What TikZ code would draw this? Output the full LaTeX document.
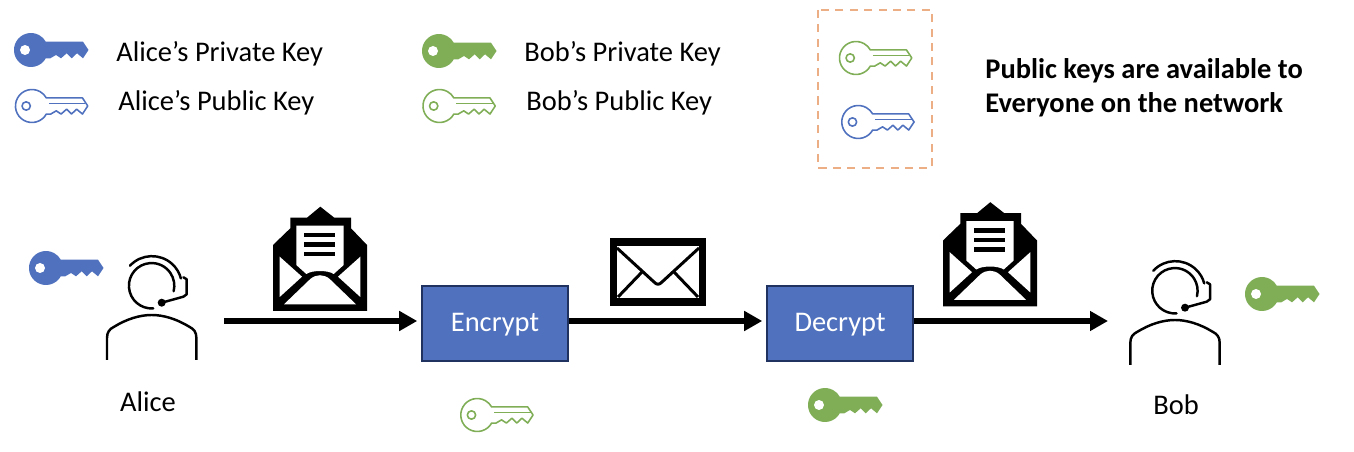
\documentclass[tikz,border=0pt]{standalone}
\usepackage{fontspec}
\setmainfont{Carlito}
\usetikzlibrary{positioning,arrows.meta}
\definecolor{keyblue}{HTML}{4F71BE}
\definecolor{keygreen}{HTML}{7FAE57}
\definecolor{boxedge}{HTML}{1F3260}
\definecolor{dashorange}{HTML}{EBAE85}
\newcommand{\keyshape}{(14.8,8.3)--(52,8.3)--(57.5,0)--(52,-8.3)--(46,-3.3)--(40.7,-8.3)--(35.7,-3.3)--(30,-8.3)--(25,-5)--(19.3,-8.3)--(14.8,-8.3)
  arc[start angle=-29.2,end angle=-330.8,radius=17]--cycle}
\tikzset{
  lbl/.style={font=\fontsize{16.2}{19}\selectfont,inner sep=0pt,anchor=west},
  who/.style={font=\fontsize{16.2}{19}\selectfont,inner sep=0pt},
  note/.style={font=\fontsize{16.2}{19}\selectfont\bfseries,inner sep=0pt,anchor=west},
  stagebox/.style={draw=boxedge,line width=0.9pt,fill=keyblue,text=white,minimum width=2.92cm,
    minimum height=1.5cm,inner sep=0pt,text height=0.4cm,text depth=0.06cm,font=\fontsize{16.2}{19}\selectfont},
  flow/.style={-{Triangle[length=3.6mm,width=3.8mm]},line width=2.9pt,black,shorten >=0.08cm},
  % ---- key and icon pictures ----
  pics/prvkey/.style={code={
    \fill[#1] \keyshape;
    \fill[white] (-6,0) circle (5);
  }},
  pics/pubkey/.style={code={
    \begin{scope}[scale=0.97,#1,line width=0.9pt,line join=round]
      \draw \keyshape;
      \draw (-6,0) circle (4.3);
      \draw (17.5,2.5)--(55,2.5);
    \end{scope}
  }},
  pics/agent/.style={code={
    \begin{scope}[line width=1.4pt,line cap=round,line join=round]
      \draw (1.5,-22.4) arc[start angle=-86,end angle=-374,radius=22.7];
      \draw (-21.7,20.3) arc[start angle=137,end angle=15,radius=30];
      \draw (31.7,8.7)--(35,6.7)--(35,-8.3)--(31.7,-10.7)--(10,-16.7);
      \fill (10,-16.7) circle (4);
      \draw[line cap=butt] (-44.7,-74)--(-44.7,-52)..controls (-44.7,-46) and (-42,-43) .. (-38,-41)
        ..controls (-25,-33) and (-12,-29) .. (0,-29)
        ..controls (12,-29) and (25,-33) .. (38,-41)
        ..controls (42,-43) and (44.7,-46) .. (44.7,-52)--(44.7,-74);
    \end{scope}
  }},
  pics/openmail/.style={code={
    \fill (-47,0)--(-47,66)--(-29.7,82.7)--(-29.7,93.3)--(-13,93.3)--(0.3,104.3)--(14.3,93.3)--(31,93.3)--(31,82.7)--(47,66)--(47,0)--cycle;
    \fill[white] (-23.7,85.3)--(23.7,85.3)--(23.7,46)--(13.7,37)..controls (8,41) and (-8,41) .. (-13.7,37)--(-23.7,46)--cycle;
    \foreach \y in {76,66.5,57}{\fill (-16,\y-2.3) rectangle (15,\y+2.3);}
    \fill[white] (-40.3,54.3)--(-40.3,14)--(-18,34.3)--cycle;
    \fill[white] (40.3,54.3)--(40.3,14)--(18,34.3)--cycle;
    \fill[white] (-36,6.7)--(-9.7,32)..controls (-4,37) and (4,37) .. (9.7,32)--(36,6.7)--cycle;
  }},
  pics/closedmail/.style={code={
    \fill (-48,-34) rectangle (48,34);
    \fill[white] (-41,-26.3) rectangle (41,26.3);
    \draw[line width=1.7pt,line join=round] (-41,24)--(-4,-10)..controls (-1,-13) and (1,-13) .. (4,-10)--(41,24);
    \draw[line width=1.7pt] (-16,0)--(-40,-25);
    \draw[line width=1.7pt] (16,0)--(40,-25);
  }},
}
\begin{document}
\begin{tikzpicture}[x=0.02cm,y=0.02cm]
  \useasboundingbox (0,0) rectangle (1354,452);
  % legend
  \pic at (31,402) {prvkey=keyblue};
  \pic at (32,346) {pubkey=keyblue};
  \pic at (439,401) {prvkey=keygreen};
  \pic at (439.5,346) {pubkey=keygreen};
  \node[lbl] (alicepriv) at (116,398) {Alice’s Private Key};
  \node[lbl] (alicepub) at (118,349) {Alice’s Public Key};
  \node[lbl] (bobpriv) at (524,398) {Bob’s Private Key};
  \node[lbl] (bobpub) at (526,349) {Bob’s Public Key};
  % public keys box
  \draw[dashorange,line width=0.85pt,dash pattern=on 4.6pt off 3.6pt] (818,442) rectangle (932,284);
  \pic at (856,394) {pubkey=keygreen};
  \pic at (858.3,330) {pubkey=keyblue};
  \node[note] (avail) at (985,381) {Public keys are available to};
  \node[note] (everyone) at (985,347) {Everyone on the network};
  % flow
  \pic at (151.7,166) {agent};
  \pic at (1175,161) {agent};
  \pic at (46,184) {prvkey=keyblue};
  \pic at (1262,158) {prvkey=keygreen};
  \node[who] (alice) at (148,50) {Alice};
  \node[who] (bob) at (1176,47) {Bob};
  \node[stagebox] (encrypt) at (495,128.7) {Encrypt};
  \node[stagebox] (decrypt) at (840,128.7) {Decrypt};
  \coordinate (flowstart) at (224,131);
  \coordinate (flowend) at (1112,131);
  \draw[flow] (flowstart)--(flowstart-|encrypt.west);
  \draw[flow] (encrypt.east|-flowstart)--(flowstart-|decrypt.west);
  \draw[flow] (decrypt.east|-flowstart)--(flowend);
  \pic at (320,141) {openmail};
  \pic at (658,180) {closedmail};
  \pic at (990,145.5) {openmail};
  \pic at (477.3,37) {pubkey=keygreen};
  \pic at (825,47) {prvkey=keygreen};
\end{tikzpicture}
\end{document}
